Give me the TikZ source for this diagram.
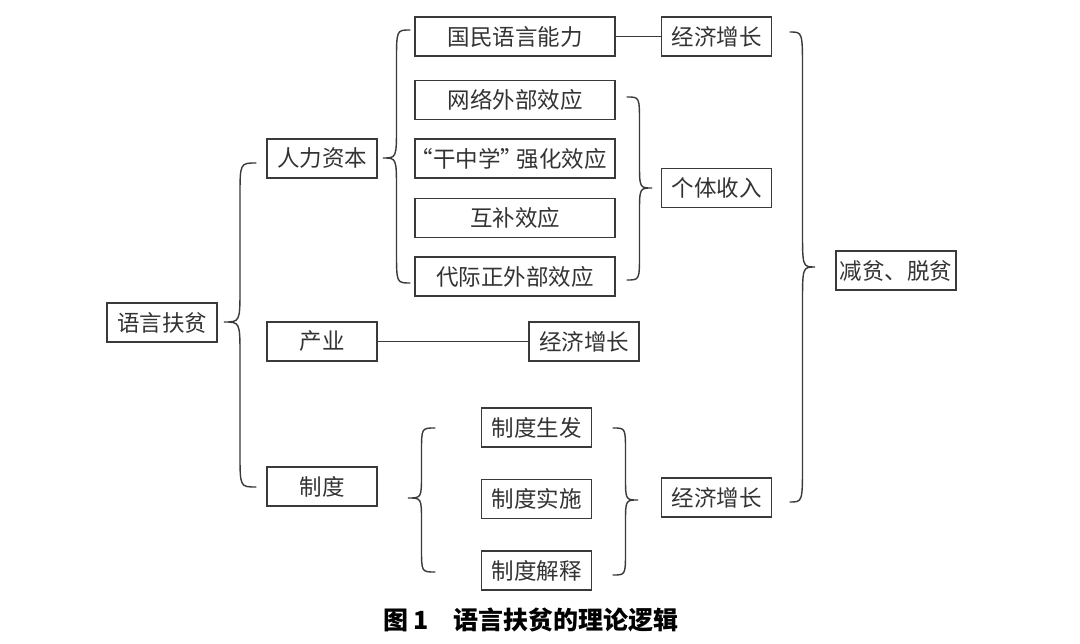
\documentclass[tikz,border=0pt]{standalone}
\usepackage{fontspec}
\newfontfamily\cjk{Noto Sans CJK SC}
\definecolor{ink}{HTML}{3A3A3A}
\definecolor{txt}{HTML}{333333}
\newcommand\drawbrace[6]{%
  \pgfmathsetmacro\bxm{(#1+#2)/2}%
  \draw[conn] (#1,#3) .. controls (\bxm,#3) .. (\bxm,#3+#6) -- (\bxm,#4-#6)
    .. controls (\bxm,#4) .. (#2,#4) .. controls (\bxm,#4) .. (\bxm,#4+#6)
    -- (\bxm,#5-#6) .. controls (\bxm,#5) .. (#1,#5);}
\begin{document}
\begin{tikzpicture}[x=1pt,y=-1pt,
  box/.style={draw=ink, line width=1.4pt, text=txt, inner sep=0pt,
    minimum height=39pt, font=\cjk\fontsize{22.5pt}{27pt}\selectfont},
  w110/.style={box, minimum width=110pt},
  w200/.style={box, minimum width=200pt},
  conn/.style={draw=ink, line width=1.4pt, line cap=round}]
\useasboundingbox (0,0) rectangle (1080,644);
\fill[white] (0,0) rectangle (1080,644);
% nodes
\node[w110] (root) at (162,322.5) {语言扶贫};
\node[w110] (hc) at (322,158.5) {人力资本};
\node[w110] (ind) at (322,341.5) {产业};
\node[w110] (inst) at (322,486.5) {制度};
\node[w200] (gm) at (515,36.5) {国民语言能力};
\node[w200] (wl) at (515,100) {网络外部效应};
\node[w200] (gz) at (515,158.5) {\kern-0.55em“干中学”\kern-0.55em\kern0.25em 强化效应};
\node[w200] (hb) at (515,218) {互补效应};
\node[w200] (dj) at (515,276.5) {代际正外部效应};
\node[w110] (jj1) at (716.5,36.5) {经济增长};
\node[w110] (gt) at (716.5,188) {个体收入};
\node[w110] (jj2) at (584,341.5) {经济增长};
\node[w110] (zs) at (536.5,427.5) {制度生发};
\node[w110] (zss) at (536.5,499) {制度实施};
\node[w110] (zj) at (536.5,570.5) {制度解释};
\node[w110] (jj3) at (716.5,497.5) {经济增长};
\node[box, minimum width=120pt] (jp) at (896,270.5) {减贫、脱贫};
\node[font=\cjk\bfseries\fontsize{25pt}{30pt}\selectfont, text=black] (cap) at (531,620) {图 1　语言扶贫的理论逻辑};
% connectors
\draw[conn] (gm.east) -- (jj1.west);
\draw[conn] (ind.east) -- (jj2.west);
% braces: xe, xt, ytop, ymid, ybot, r
\drawbrace{256}{224}{163}{322}{487}{34}
\drawbrace{410}{383}{30}{158}{283}{32}
\drawbrace{627}{652}{97}{188}{280}{26}
\drawbrace{435}{408}{428}{498}{572}{24}
\drawbrace{613}{638}{428}{500}{575}{24}
\drawbrace{790}{815}{32}{267}{502}{38}
\end{tikzpicture}
\end{document}
